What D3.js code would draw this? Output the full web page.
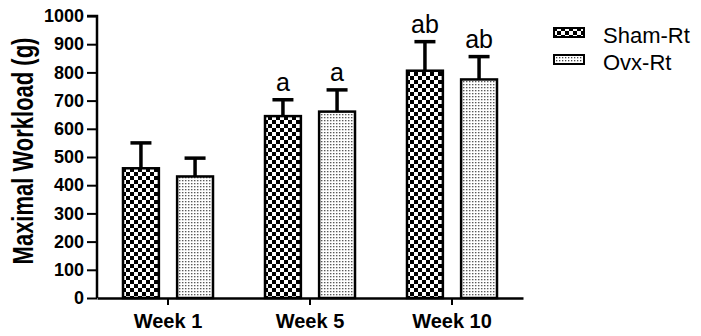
<html>
<head>
    <script src="https://d3js.org/d3.v7.min.js"></script>
    <style>
        body { margin: 0; background: white; }
        text { font-family: "Liberation Sans", Arial, sans-serif; fill: black; }
    </style>
</head>
<body>
<script>
    var weeks = ["Week 1", "Week 5", "Week 10"];
    var groups = ["Sham-Rt", "Ovx-Rt"];
    var shamMean = [460, 645, 806];
    var shamErr = [90, 58, 103];
    var ovxMean = [431, 661, 775];
    var ovxErr = [65, 77, 81];
    var shamMark = ["", "a", "ab"];
    var ovxMark = ["", "a", "ab"];
    var yTicks = [0, 100, 200, 300, 400, 500, 600, 700, 800, 900, 1000];

    var width = 701, height = 336;
    var svg = d3.select("body").append("svg").attr("width", width).attr("height", height);

    var defs = svg.append("defs");
    var chk = defs.append("pattern").attr("id", "chk").attr("patternUnits", "userSpaceOnUse")
        .attr("width", 8).attr("height", 8);
    chk.append("rect").attr("width", 8).attr("height", 8).attr("fill", "white");
    chk.append("rect").attr("width", 4).attr("height", 4).attr("fill", "black");
    chk.append("rect").attr("x", 4).attr("y", 4).attr("width", 4).attr("height", 4).attr("fill", "black");

    var dot = defs.append("pattern").attr("id", "dot").attr("patternUnits", "userSpaceOnUse")
        .attr("width", 3).attr("height", 3);
    dot.append("rect").attr("width", 3).attr("height", 3).attr("fill", "white");
    dot.append("rect").attr("width", 1.3).attr("height", 1.3).attr("fill", "#444");

    var fills = { "Sham-Rt": "url(#chk)", "Ovx-Rt": "url(#dot)" };

    var y = d3.scaleLinear().domain([0, 1000]).range([298, 16]);
    var x = d3.scaleBand().domain(weeks).range([97, 523]);
    var xs = d3.scaleBand().domain(groups).range([-46, 46]).paddingInner(0.3);

    // y axis
    var yAxis = svg.append("g").attr("transform", "translate(97,0)")
        .call(d3.axisLeft(y).tickValues(yTicks).tickFormat(d3.format("d")).tickSize(10).tickPadding(3));
    yAxis.select(".domain").attr("stroke-width", 2.5).attr("d", "M-10," + y(1000) + "H0V" + y(0));
    yAxis.selectAll(".tick line").attr("stroke-width", 2);
    yAxis.selectAll(".tick text").attr("font-size", 18).attr("font-weight", "bold")
        .attr("fill", "black").style("font-family", "Liberation Sans, Arial, sans-serif");

    // x axis
    var xAxis = svg.append("g").attr("transform", "translate(0," + y(0) + ")")
        .call(d3.axisBottom(x).tickSize(7).tickSizeOuter(0).tickPadding(9));
    xAxis.select(".domain").attr("stroke-width", 2.5);
    xAxis.selectAll(".tick line").attr("stroke-width", 2);
    xAxis.selectAll(".tick text").attr("font-size", 20).attr("font-weight", "bold")
        .attr("fill", "black").style("font-family", "Liberation Sans, Arial, sans-serif");

    svg.append("text").attr("transform", "translate(33,151) scale(1.3,1) rotate(-90)")
        .attr("text-anchor", "middle").attr("font-size", 22).attr("font-weight", "bold")
        .text("Maximal Workload (g)");

    var rows = [];
    weeks.forEach(function(w, i) {
        rows.push({ week: w, group: "Sham-Rt", mean: shamMean[i], err: shamErr[i], mark: shamMark[i] });
        rows.push({ week: w, group: "Ovx-Rt", mean: ovxMean[i], err: ovxErr[i], mark: ovxMark[i] });
    });

    var bars = svg.append("g").selectAll("g").data(rows).enter().append("g")
        .attr("transform", function(d) { return "translate(" + (x(d.week) + x.bandwidth() / 2 + xs(d.group)) + ",0)"; });

    var bw = xs.bandwidth();
    bars.append("line")
        .attr("x1", bw / 2).attr("x2", bw / 2)
        .attr("y1", function(d) { return y(d.mean); })
        .attr("y2", function(d) { return y(d.mean + d.err); })
        .attr("stroke", "black").attr("stroke-width", 3.5);
    bars.append("line")
        .attr("x1", bw / 2 - 10.5).attr("x2", bw / 2 + 10.5)
        .attr("y1", function(d) { return y(d.mean + d.err); })
        .attr("y2", function(d) { return y(d.mean + d.err); })
        .attr("stroke", "black").attr("stroke-width", 3.5);
    bars.append("rect")
        .attr("x", 1).attr("width", bw - 2)
        .attr("y", function(d) { return y(d.mean); })
        .attr("height", function(d) { return y(0) - y(d.mean); })
        .attr("fill", function(d) { return fills[d.group]; })
        .attr("stroke", "black").attr("stroke-width", 2.5);
    bars.append("text")
        .attr("x", bw / 2)
        .attr("y", function(d) { return y(d.mean + d.err) - 9; })
        .attr("text-anchor", "middle").attr("font-size", 25)
        .text(function(d) { return d.mark; });

    // legend
    var legend = svg.append("g").selectAll("g").data(groups).enter().append("g")
        .attr("transform", function(d, i) { return "translate(553," + (27 + i * 27) + ")"; });
    legend.append("rect").attr("x", 1).attr("y", 1).attr("width", 30).attr("height", 9)
        .attr("fill", function(d) { return fills[d]; })
        .attr("stroke", "black").attr("stroke-width", 2);
    legend.append("text").attr("x", 50).attr("y", 16).attr("font-size", 22)
        .text(function(d) { return d; });
</script>
</body>
</html>
